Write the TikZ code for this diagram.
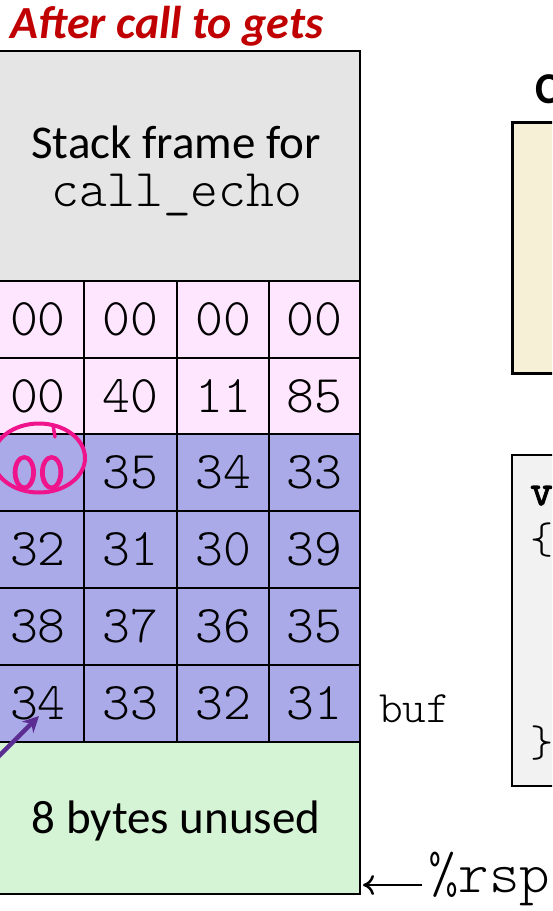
\documentclass[tikz,border=0pt]{standalone}
\usepackage{fontspec}
\setmainfont{Carlito}
\newfontfamily\lmmono{Latin Modern Mono Light}
\newfontfamily\lmmonobold[FakeBold=2.5]{Latin Modern Mono}
\usetikzlibrary{arrows.meta}
\definecolor{titlered}{HTML}{C00000}
\definecolor{framegray}{HTML}{E5E5E5}
\definecolor{retpink}{HTML}{FFE6FF}
\definecolor{bufblue}{HTML}{AAAAE8}
\definecolor{unusedgreen}{HTML}{D5F3D5}
\definecolor{creambox}{HTML}{F6F0D6}
\definecolor{codegray}{HTML}{F2F2F2}
\definecolor{hotpink}{HTML}{F0148C}
\definecolor{arrowpurple}{HTML}{5B2C92}
\tikzset{
  hexcell/.style={font=\fontsize{53}{53}\lmmono, inner sep=0pt},
  gridline/.style={line width=2pt, black},
  outerline/.style={line width=2.6pt, black},
  codetext/.style={font=\fontsize{44}{44}\lmmono, anchor=base west, inner sep=0pt},
}
\begin{document}
\begin{tikzpicture}[x=1pt,y=-1pt]
\useasboundingbox (0,0) rectangle (552,911);
\clip (0,0) rectangle (552,911);
% title
\node[font=\fontsize{46}{46}\selectfont\bfseries\itshape, text=titlered, anchor=base, inner sep=0pt] (title) at (167,38) {After call to gets};
% stack fills
\fill[framegray] (-8,51) rectangle (360,281);
\fill[retpink] (-8,281) rectangle (360,434);
\fill[bufblue] (-8,434) rectangle (360,742);
\fill[unusedgreen] (-8,742) rectangle (360,894);
% grid lines
\foreach \y in {281,358,434,511,588,665,742} \draw[gridline] (-8,\y) -- (360,\y);
\foreach \x in {84,177,269} \draw[gridline] (\x,281) -- (\x,742);
\draw[outerline] (-8,51) rectangle (360,894);
% texts
\node[font=\fontsize{47}{47}\selectfont, anchor=base, inner sep=0pt] (sf1) at (176,158) {Stack frame for};
\node[font=\fontsize{53}{53}\lmmono, anchor=base, inner sep=0pt] (sf2) at (177,206) {call\_echo};
\node[font=\fontsize{47}{47}\selectfont, anchor=base, inner sep=0pt] (unused) at (176,833) {8 bytes unused};
% hex cells
\foreach \r/\yc/\a/\b/\c/\d in {1/319.5/00/00/00/00, 2/396/00/40/11/85, 3/472.5/00/35/34/33, 4/549.5/32/31/30/39, 5/626.5/38/37/36/35, 6/703.5/34/33/32/31} {
  \node[hexcell] (c\r a) at (38,\yc) {\ifnum\r=3\relax\else\a\fi};
  \node[hexcell] (c\r b) at (130.5,\yc) {\b};
  \node[hexcell] (c\r c) at (223,\yc) {\c};
  \node[hexcell] (c\r d) at (314.5,\yc) {\d};
}
\node[hexcell, text=hotpink, font=\fontsize{53}{53}\lmmonobold] (hot) at (38,472.5) {00};
\draw[hotpink, line width=4pt] (39,458) ellipse [x radius=46, y radius=34.5];
\draw[hotpink, line width=3.5pt, line cap=round] (53,425) -- (55,437);
% purple arrow
\coordinate (ptail) at (-20,775);
\coordinate (ptip) at (39,716);
\draw[arrowpurple, line width=4.5pt, -{Stealth[length=16pt,width=16pt]}] (ptail) -- (ptip);
% buf label
\node[font=\fontsize{45}{45}\lmmono, anchor=base west, inner sep=0pt] (buf) at (379,722) {buf};
% rsp
\node[font=\fontsize{58}{58}\lmmono, anchor=base west, inner sep=0pt] (rsp) at (428,892) {\%rsp};
\coordinate (rsptip) at (363,885);
\draw[line width=2.5pt, -{To[length=11pt,width=20pt]}] (rsp.west |- rsptip) ++(-6,0) -- (rsptip);
% right side
\node[font=\fontsize{44}{44}\selectfont\bfseries, anchor=base west, inner sep=0pt] (codehead) at (535,103) {C};
\draw[line width=3pt, fill=creambox] (512,122) rectangle (600,373);
\draw[line width=2.5pt, fill=codegray] (512,455) rectangle (600,786);
\node[codetext, font=\fontsize{44}{44}\lmmonobold] (cv) at (530,505) {v};
\node[codetext] (cb1) at (530,553) {\{};
\node[codetext] (cb2) at (530,756) {\}};
\end{tikzpicture}
\end{document}
